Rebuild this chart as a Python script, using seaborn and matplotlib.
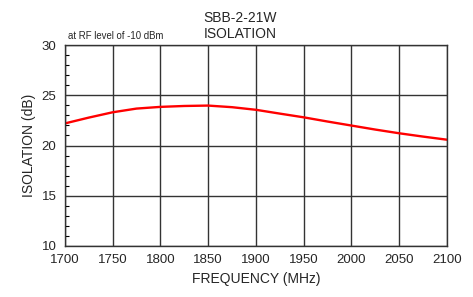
import numpy as np
import pandas as pd
import matplotlib
matplotlib.use("Agg")
import matplotlib.pyplot as plt
import seaborn as sns
from matplotlib.ticker import MultipleLocator

# data (every 25 MHz)
freq_mhz = [1700, 1725, 1750, 1775, 1800, 1825, 1850, 1875, 1900,
            1925, 1950, 1975, 2000, 2025, 2050, 2075, 2100]
isolation_db = [22.2, 22.78, 23.31, 23.68, 23.85, 23.94, 23.98, 23.82, 23.56,
                23.18, 22.81, 22.39, 21.99, 21.59, 21.22, 20.89, 20.58]

df = pd.DataFrame({"freq": freq_mhz, "iso": isolation_db})

sns.set_style("white")
plt.rcParams["font.family"] = ["Liberation Sans", "DejaVu Sans"]

fig = plt.figure(figsize=(4.73, 2.97), dpi=100)
ax = fig.add_axes([0.137, 0.172, 0.808, 0.676])

sns.lineplot(data=df, x="freq", y="iso", color="#ff0000", linewidth=1.7, ax=ax)

ax.set_xlim(1700, 2100)
ax.set_ylim(10, 30)
ax.xaxis.set_major_locator(MultipleLocator(50))
ax.yaxis.set_major_locator(MultipleLocator(5))
ax.yaxis.set_minor_locator(MultipleLocator(1))
ax.grid(True, which="major", color="#333333", linewidth=1)
ax.tick_params(axis="both", which="major", direction="out", length=4, width=1,
               color="black", labelsize=9.5, pad=2)
ax.tick_params(axis="y", which="minor", direction="in", length=3, width=0.8,
               color="black", left=True)
for s in ax.spines.values():
    s.set_color("#333333")
    s.set_linewidth(1)

ax.set_xlabel("FREQUENCY (MHz)", fontsize=10, labelpad=4)
ax.set_ylabel("ISOLATION (dB)", fontsize=10, labelpad=4)
fig.text(0.508, 0.962, "SBB-2-21W\nISOLATION", ha="center", va="top",
         fontsize=10, linespacing=1.15)
ax.text(0.008, 1.02, "at RF level of -10 dBm", transform=ax.transAxes,
        fontsize=6.9, ha="left", va="bottom")

fig.savefig("out.png", dpi=100)
